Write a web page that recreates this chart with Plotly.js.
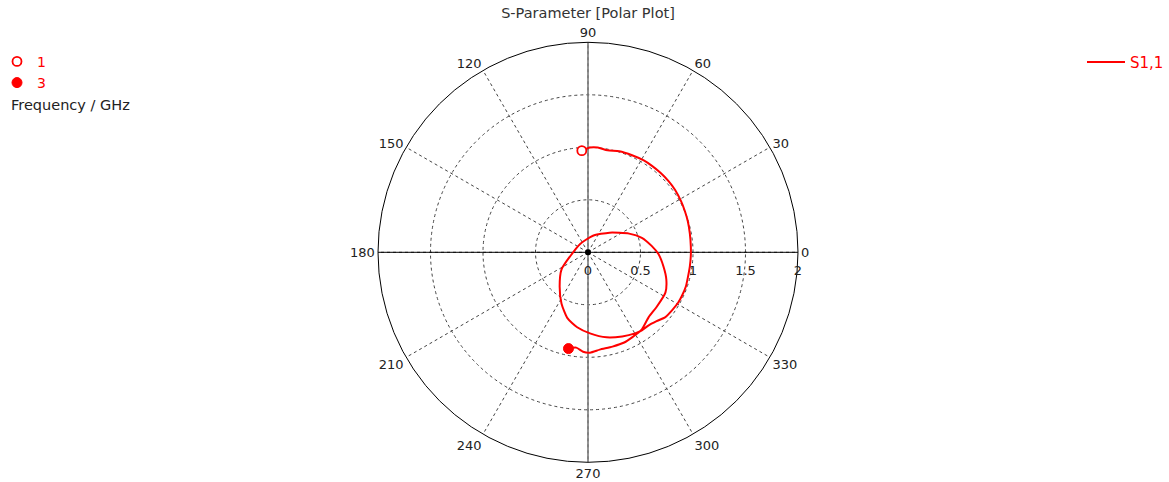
<!DOCTYPE html>
<html>
<head>
<meta charset="utf-8">
<script src="https://cdn.plot.ly/plotly-3.0.1.min.js"></script>
<style>html,body{margin:0;padding:0;background:#fff;}#chart{width:1169px;height:482px;}</style>
</head>
<body>
<div id="chart"></div>
<script>
const s11Re = [-0.059,0.019,0.093,0.186,0.298,0.420,0.531,0.606,0.690,0.765,0.830,0.886,0.923,0.951,0.970,0.979,0.979,0.970,0.951,0.932,0.895,0.858,0.802,0.737,0.653,0.578,0.513,
  0.448,0.326,0.177,0.019,-0.103,-0.196,-0.252,-0.270,-0.252,-0.168,-0.075,0.047,0.205,0.392,0.513,0.606,0.671,0.718,0.746,0.737,0.653,0.578,0.513,0.420,0.345,0.233,0.112,0.019,-0.047,-0.112,-0.186];
const s11Im = [0.968,0.998,0.998,0.971,0.962,0.924,0.875,0.826,0.758,0.681,0.594,0.487,0.391,0.294,0.178,0.061,-0.035,-0.133,-0.239,-0.326,-0.414,-0.481,-0.550,-0.617,-0.656,-0.695,-0.743,
  -0.772,-0.801,-0.810,-0.772,-0.714,-0.627,-0.491,-0.326,-0.162,-0.035,0.080,0.158,0.187,0.178,0.138,0.061,-0.017,-0.133,-0.259,-0.384,-0.521,-0.617,-0.734,-0.810,-0.859,-0.898,-0.927,-0.956,-0.947,-0.908,-0.917];
const freqLabels = ['1', '3'];          // GHz at first / last point
const radialTicks = [0, 0.5, 1, 1.5, 2];
const angularTicks = [0,30,60,90,120,150,180,210,240,270,300,330];
const rMax = 2;

const mag = s11Re.map((re, i) => Math.hypot(re, s11Im[i]));
const phase = s11Re.map((re, i) => Math.atan2(s11Im[i], re) * 180 / Math.PI);
const last = mag.length - 1;

const FONT = 'DejaVu Sans, Verdana, sans-serif';

const traces = [
  {type:'scatterpolar', mode:'lines', r:[rMax,0,rMax], theta:[0,0,180], line:{color:'#000', width:1}, showlegend:false, hoverinfo:'skip'},
  {type:'scatterpolar', mode:'lines', r:[rMax,0,rMax], theta:[90,90,270], line:{color:'#7a7a7a', width:1.6}, showlegend:false, hoverinfo:'skip'},
  {type:'scatterpolar', mode:'markers', r:[0], theta:[0], marker:{color:'#000', size:6}, showlegend:false, hoverinfo:'skip'},
  {type:'scatterpolar', mode:'lines', name:'S1,1', r:mag, theta:phase, line:{color:'#ff0000', width:2, shape:'spline', smoothing:0.6}, legend:'legend'},
  {type:'scatterpolar', mode:'markers', name:freqLabels[0], r:[mag[0]], theta:[phase[0]], legend:'legend2',
   marker:{symbol:'circle', size:9, color:'#ffffff', line:{color:'#ff0000', width:1.8}}},
  {type:'scatterpolar', mode:'markers', name:freqLabels[1], r:[mag[last]], theta:[phase[last]], legend:'legend2',
   marker:{symbol:'circle', size:10, color:'#ff0000', line:{color:'#ff0000', width:1}}}
];

const layout = {
  width:1169, height:482,
  margin:{l:0, r:0, t:0, b:0, autoexpand:false},
  paper_bgcolor:'#fff',
  font:{family:FONT, size:13, color:'#222'},
  title:{text:'S-Parameter [Polar Plot]', x:0.503, xanchor:'center', y:0.973, yanchor:'middle', font:{family:FONT, size:14.5, color:'#333'}},
  polar:{
    domain:{x:[378/1169, 798/1169], y:[19.7/482, 439.7/482]},
    bgcolor:'#fff',
    radialaxis:{range:[0, rMax], tickvals:radialTicks, ticktext:radialTicks.map(String), angle:0, side:'clockwise',
      showline:false, ticks:'outside', ticklen:7, tickcolor:'rgba(0,0,0,0)', gridcolor:'#444', griddash:'3px,3px', gridwidth:1,
      tickfont:{family:FONT, size:13, color:'#222'}, tickangle:0},
    angularaxis:{rotation:0, direction:'counterclockwise', tickmode:'array', tickvals:angularTicks, ticktext:angularTicks.map(String),
      showline:true, linecolor:'#000', linewidth:1, gridcolor:'#444', griddash:'3px,3px', gridwidth:1, ticks:'',
      tickfont:{family:FONT, size:13, color:'#222'}}
  },
  legend:{x:1, xanchor:'right', y:0.905, yanchor:'top', itemwidth:38, font:{family:FONT, size:15, color:'#ff0000'}, bgcolor:'rgba(0,0,0,0)'},
  legend2:{x:-3/1169, xanchor:'left', y:0.905, yanchor:'top', font:{family:FONT, size:14, color:'#ff0000'}, bgcolor:'rgba(0,0,0,0)', tracegroupgap:0},
  annotations:[{text:'Frequency / GHz', xref:'paper', yref:'paper', x:9/1169, xanchor:'left', y:(482-105)/482, yanchor:'middle', showarrow:false, font:{family:FONT, size:14.5, color:'#222'}}],
  showlegend:true
};

Plotly.newPlot('chart', traces, layout, {displayModeBar:false, staticPlot:true});
</script>
</body>
</html>
